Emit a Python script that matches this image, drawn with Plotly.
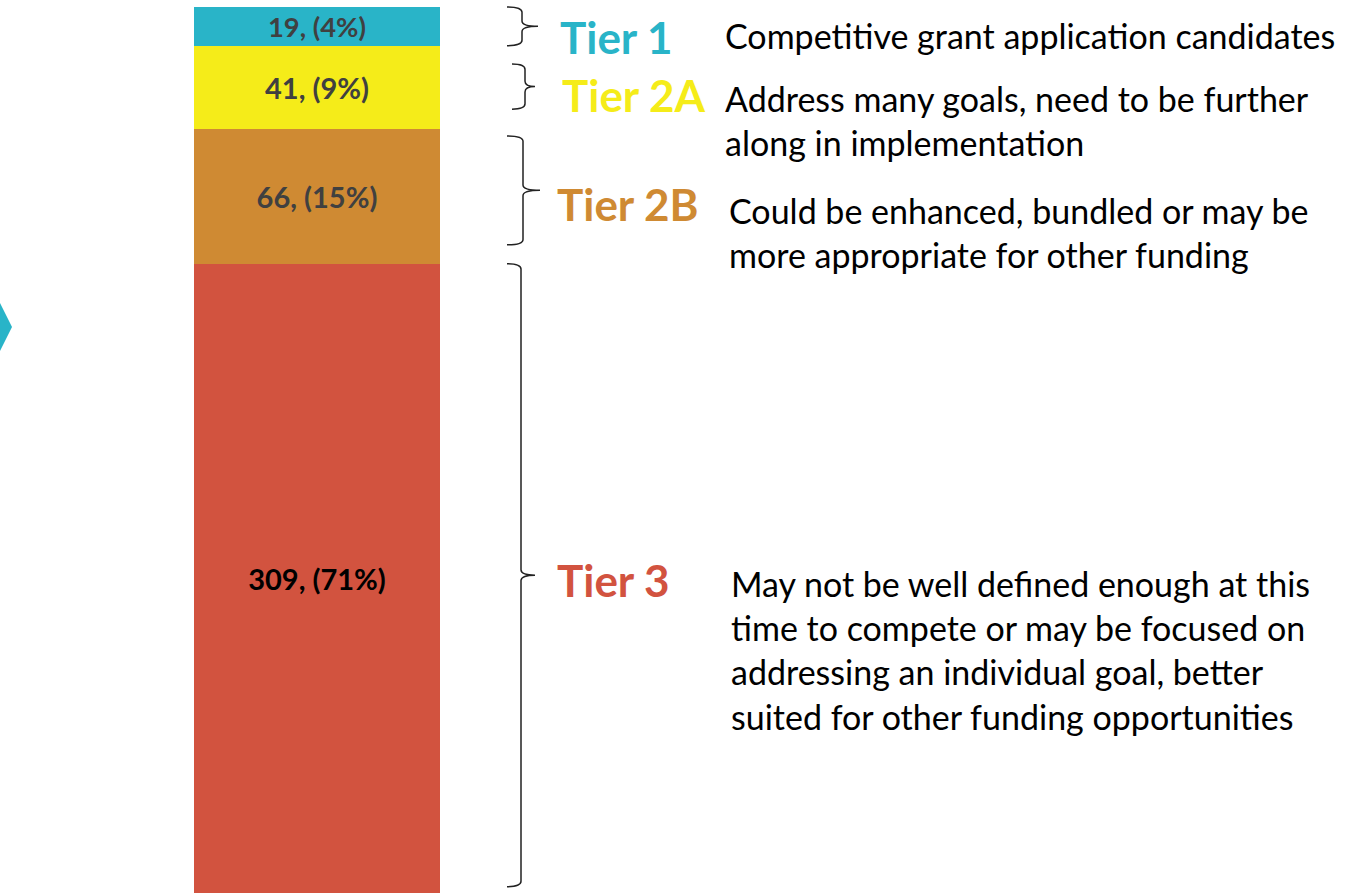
import plotly.graph_objects as go

W, H = 1355, 893

tiers = ["Tier 1", "Tier 2A", "Tier 2B", "Tier 3"]
counts = [19, 41, 66, 309]
percents = [4, 9, 15, 71]
colors = ["#29B4C8", "#F5EC19", "#CF8A33", "#D2533F"]
label_colors = ["#404040", "#404040", "#404040", "#000000"]
descriptions = [
    "Competitive grant application candidates",
    "Address many goals, need to be further<br>along in implementation",
    "Could be enhanced, bundled or may be<br>more appropriate for other funding",
    "May not be well defined enough at this<br>time to compete or may be focused on<br>addressing an individual goal, better<br>suited for other funding opportunities",
]

total = sum(counts)
TOP_PX = 7
scale = (H - TOP_PX) / total          # px per unit
ymax = H / scale                       # data range so bar fills to bottom

def y2paper(v):
    return v / ymax

def px2paper(py):
    return 1 - py / H

fig = go.Figure()

# stacked bar, bottom to top: Tier 3, 2B, 2A, 1
order = list(range(len(tiers)))[::-1]
for i in order:
    fig.add_trace(go.Bar(
        x=[317], y=[counts[i]], width=246,
        marker=dict(color=colors[i], line=dict(width=0)),
        text=[f"{counts[i]}, ({percents[i]}%)"],
        textposition="inside", insidetextanchor="middle", textangle=0,
        textfont=dict(family="Lato", size=29, color=label_colors[i], weight="bold"),
        hoverinfo="skip", showlegend=False, name=tiers[i],
    ))

# cumulative bounds (top-down order)
bounds = []
hi = total
for c in counts:
    bounds.append((hi - c, hi))
    hi -= c

# bracket styling: (inset top frac, inset bottom frac, x0, x1, xtip)
bracket_style = [
    (0.0, 0.0, 507, 522, 538),
    (0.22, 0.24, 512, 525, 535),
    (0.05, 0.14, 507, 523, 540),
    (0.0, 0.01, 507, 521, 535),
]
label_y_px = [37, 95, 204, 580]
label_x = [558, 560, 555, 555]
desc_x = [723, 723, 727, 729]
desc_y_px = [36, 121, 232, 650]

shapes = []
annotations = []
for i, (lo, hi) in enumerate(bounds):
    it, ib, x0, x1, x2 = bracket_style[i]
    span = hi - lo
    ytop = y2paper(hi - it * span)
    ybot = y2paper(lo + ib * span)
    ymid = (ytop + ybot) / 2
    r = min(0.006, (ytop - ybot) / 6)
    path = (f"M {x0},{ytop} Q {x1},{ytop} {x1},{ytop - r} "
            f"L {x1},{ymid + r} Q {x1},{ymid} {x2},{ymid} "
            f"Q {x1},{ymid} {x1},{ymid - r} L {x1},{ybot + r} "
            f"Q {x1},{ybot} {x0},{ybot}")
    shapes.append(dict(type="path", path=path, xref="x", yref="paper",
                       line=dict(color="#222222", width=1.5)))
    annotations.append(dict(
        text=tiers[i], x=label_x[i], y=px2paper(label_y_px[i]),
        xref="x", yref="paper", xanchor="left", yanchor="middle",
        showarrow=False,
        font=dict(family="Lato", size=44, color=colors[i], weight="bold")))
    annotations.append(dict(
        text=descriptions[i], x=desc_x[i], y=px2paper(desc_y_px[i]),
        xref="x", yref="paper", xanchor="left", yanchor="middle",
        align="left", showarrow=False,
        font=dict(family="Lato", size=34, color="#000000")))

# chevron at the left edge
cy0, cy1, ctip = px2paper(303), px2paper(351), px2paper(327)
shapes.append(dict(type="path", xref="x", yref="paper",
                   path=f"M -5,{cy0} L 0,{cy0} L 12,{ctip} L 0,{cy1} L -5,{cy1} Z",
                   fillcolor="#29B4C8", line=dict(width=0)))

fig.update_layout(
    width=W, height=H, margin=dict(l=0, r=0, t=0, b=0),
    paper_bgcolor="white", plot_bgcolor="white",
    barmode="stack", bargap=0,
    xaxis=dict(range=[0, W], visible=False, fixedrange=True),
    yaxis=dict(range=[0, ymax], visible=False, fixedrange=True),
    shapes=shapes, annotations=annotations,
)

fig.write_html("out.html",
               config={"displayModeBar": False},
               post_script="document.body.style.margin='0';document.body.style.overflow='hidden';")
